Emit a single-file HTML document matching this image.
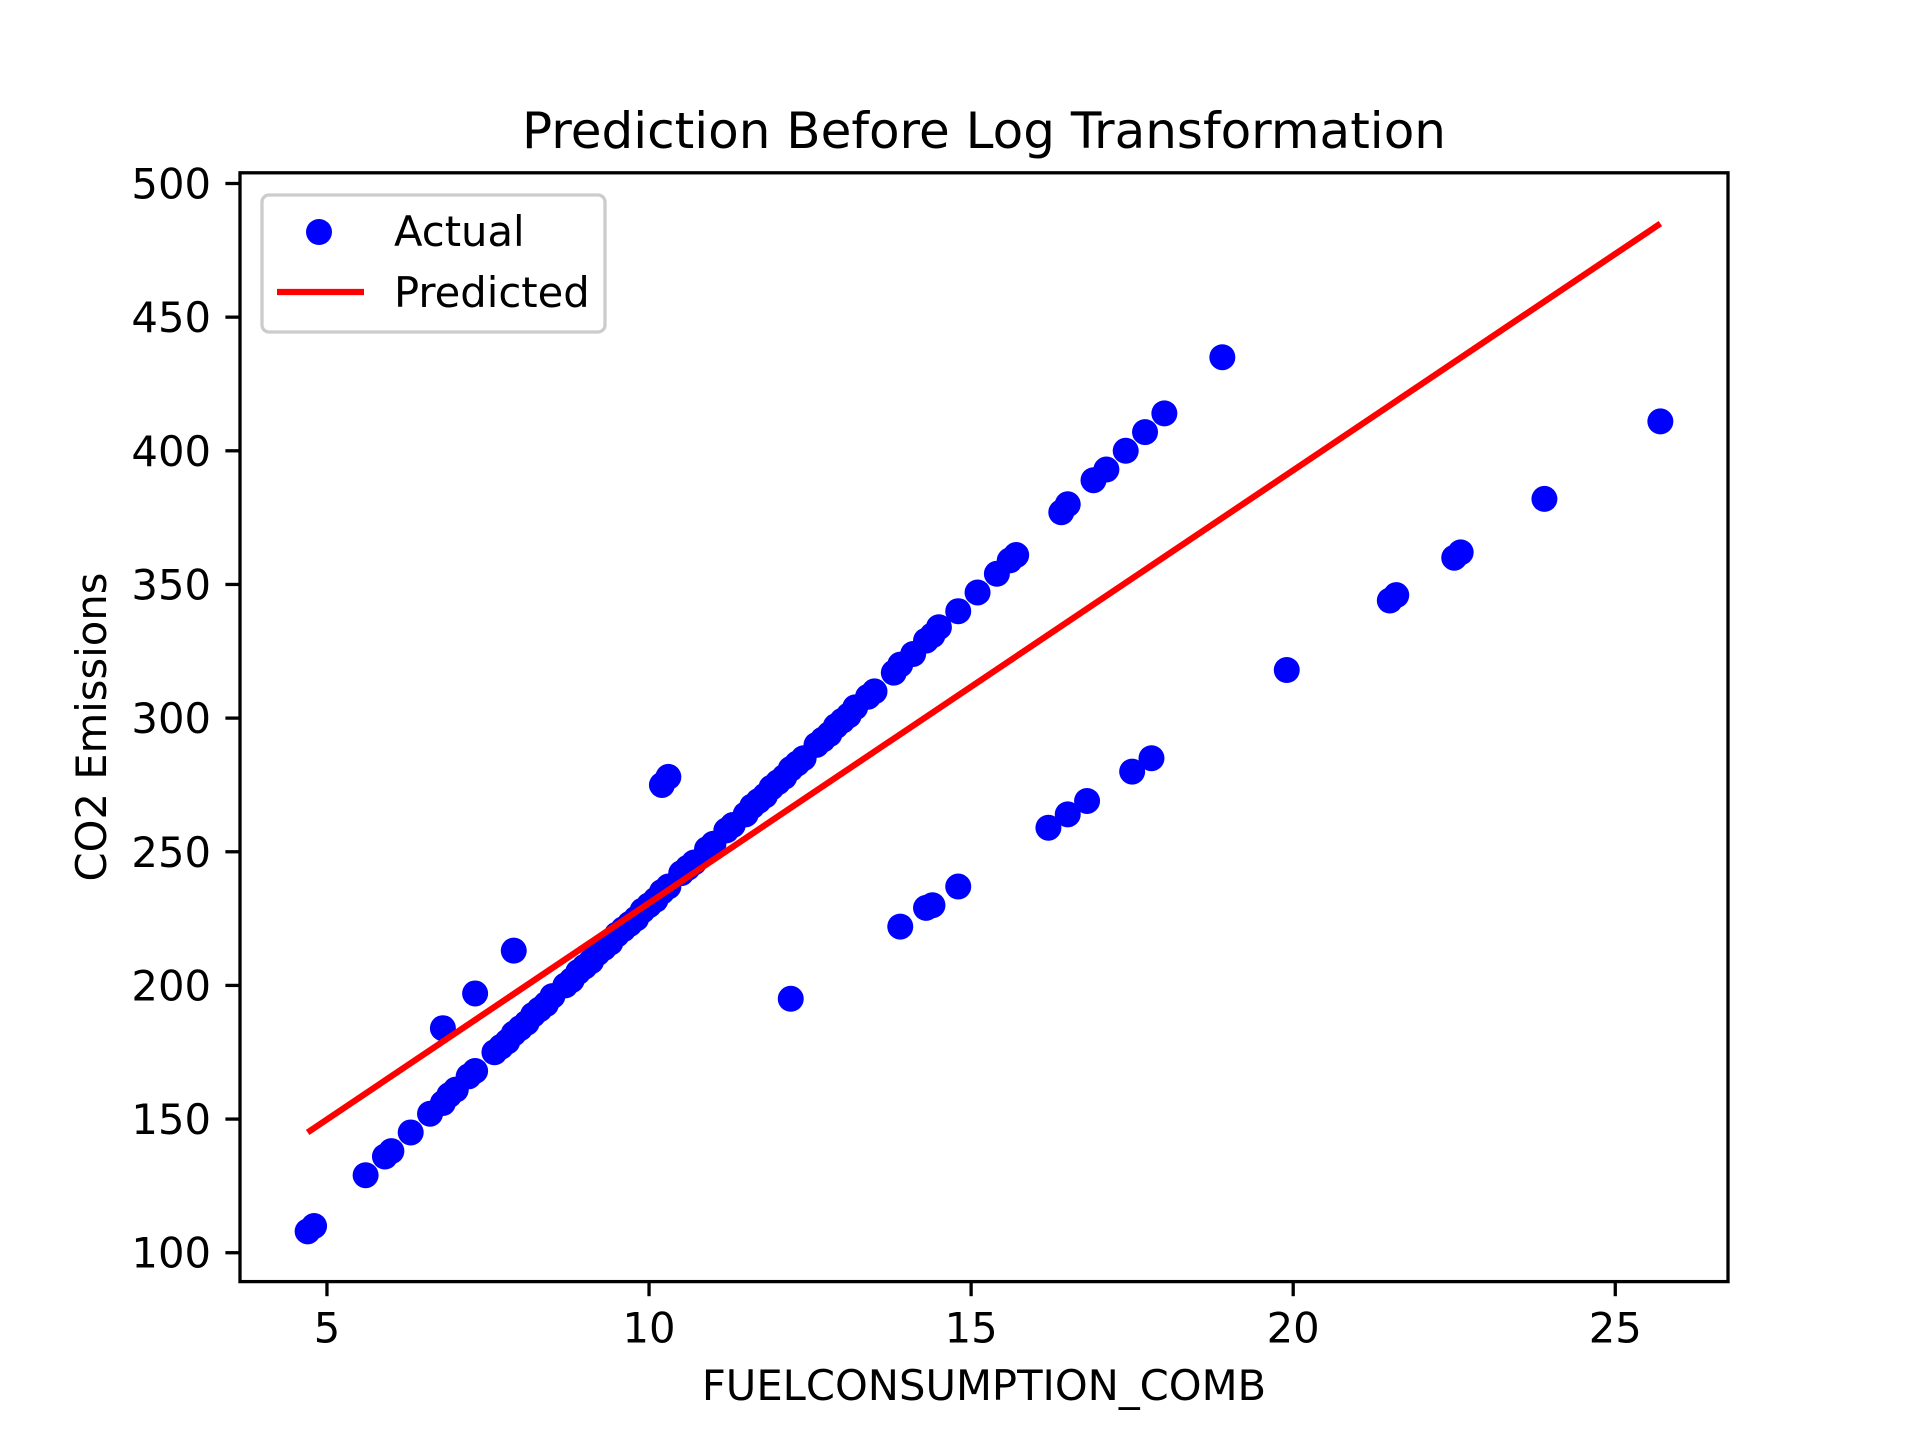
<!DOCTYPE html>
<html><head><meta charset="utf-8"><style>
html,body{margin:0;padding:0;background:#fff}
svg{display:block;font-family:"DejaVu Sans","Liberation Sans",sans-serif}
</style></head><body>
<svg id="chart" width="1920" height="1440" viewBox="0 0 1920 1440">
<rect width="1920" height="1440" fill="#fff"/>
<g id="plot"></g>
</svg>
<script>
const actualX=[4.7,4.8,5.6,5.9,6.0,6.3,6.6,6.8,6.9,7.0,7.2,7.3,7.6,7.7,7.8,7.9,8.0,8.1,8.2,8.3,8.4,8.5,8.7,8.8,8.9,9.0,9.1,9.2,9.3,9.4,9.5,9.6,9.7,9.8,9.9,10.0,10.1,10.2,10.3,10.5,10.6,10.7,10.9,11.0,11.2,11.3,11.5,11.6,11.7,11.8,11.9,12.0,12.1,12.2,12.3,12.4,12.6,12.7,12.8,12.9,13.0,13.1,13.2,13.4,13.5,13.8,13.9,14.1,14.3,14.4,14.5,14.8,15.1,15.4,15.6,15.7,16.4,16.5,16.9,17.1,17.4,17.7,18.0,18.9,
6.8,7.3,7.9,10.2,10.3,12.2,13.9,14.3,14.4,14.8,16.2,16.5,16.8,17.5,17.8,19.9,21.5,21.6,22.5,22.6,23.9,25.7];
const actualY=[108,110,129,136,138,145,152,156,159,161,166,168,175,177,179,182,184,186,189,191,193,196,200,202,205,207,209,212,214,216,219,221,223,225,228,230,232,235,237,242,244,246,251,253,258,260,264,267,269,271,274,276,278,281,283,285,290,292,294,297,299,301,304,308,310,317,320,324,329,331,334,340,347,354,359,361,377,380,389,393,400,407,414,435,
184,197,213,275,278,195,222,229,230,237,259,264,269,280,285,318,344,346,360,362,382,411];
const predX=[4.7,25.7];
const predY=[145,485];
const xTicks=[5,10,15,20,25];
const yTicks=[100,150,200,250,300,350,400,450,500];

const L=240,R=1728,T=172.8,B=1281.6;
const xMin=3.65,xMax=26.75,yMin=89.2,yMax=504.0;
function sx(v){return L+(v-xMin)/(xMax-xMin)*(R-L);}
function sy(v){return B-(v-yMin)/(yMax-yMin)*(B-T);}
const NS='http://www.w3.org/2000/svg';
const g=document.getElementById('plot');
function mk(tag,attrs,parent){const e=document.createElementNS(NS,tag);for(const k in attrs)e.setAttribute(k,attrs[k]);(parent||g).appendChild(e);return e;}

const pts=mk('g',{});


for(let i=0;i<actualX.length;i++){
  const c=mk('circle',{cx:sx(actualX[i]),cy:sy(actualY[i]),r:13,fill:'#0000ff'},pts);
  
  
}
const ln=mk('line',{x1:sx(predX[0]),y1:sy(predY[0]),x2:sx(predX[1]),y2:sy(predY[1]),stroke:'#ff0000','stroke-width':6.25});



const fr=mk('rect',{x:L,y:T,width:R-L,height:B-T,fill:'none',stroke:'#000','stroke-width':3.3});



for(const t of xTicks){
  const x=sx(t);
  const tk=mk('line',{x1:x,y1:B,x2:x,y2:B+14.6,stroke:'#000','stroke-width':3.3});
  
  
  const tx=mk('text',{x:x,y:B+29+32,'font-size':41.7,'text-anchor':'middle',fill:'#000'});
  tx.textContent=t;
  
  
}
for(const t of yTicks){
  const y=sy(t);
  const tk=mk('line',{x1:L,y1:y,x2:L-14.6,y2:y,stroke:'#000','stroke-width':3.3});
  
  
  const tx=mk('text',{x:L-29,y:y+15,'font-size':41.7,'text-anchor':'end',fill:'#000'});
  tx.textContent=t;
  
  
}
</script>
<svg width="1920" height="1440" viewBox="0 0 1920 1440" style="position:absolute;left:0;top:0;font-family:'DejaVu Sans','Liberation Sans',sans-serif">
<text x="984" y="148" font-size="50" text-anchor="middle">Prediction Before Log Transformation</text>
<text x="984" y="1400" font-size="41.7" text-anchor="middle">FUELCONSUMPTION_COMB</text>
<text x="0" y="0" font-size="41.7" text-anchor="middle" transform="translate(106,727) rotate(-90)">CO2 Emissions</text>
<g>
<rect x="262" y="195" width="343" height="137" rx="7" fill="#fff" fill-opacity="0.8" stroke="#cccccc" stroke-width="3.3"/>
<circle cx="319" cy="232" r="13" fill="#0000ff"/>
<text x="394" y="246" font-size="41.7">Actual</text>
<line x1="277" y1="292" x2="364" y2="292" stroke="#ff0000" stroke-width="6.25"/>
<text x="394" y="307" font-size="41.7">Predicted</text>
</g>
</svg>
</body></html>
